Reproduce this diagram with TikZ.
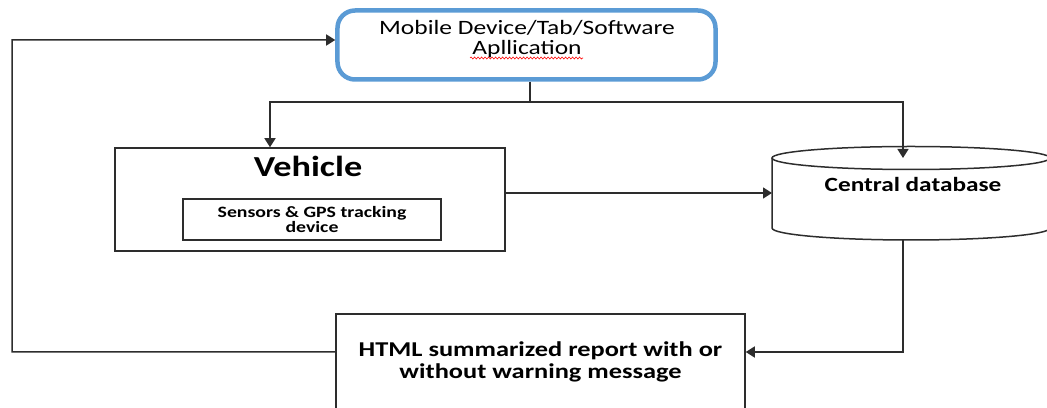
\documentclass[tikz,border=0pt]{standalone}
\usepackage{fontspec}
\setmainfont{Carlito}[FakeStretch=1.25]
\usetikzlibrary{arrows.meta,decorations.pathmorphing}
\definecolor{appblue}{RGB}{91,155,213}
\definecolor{linegray}{RGB}{45,45,45}

\begin{document}
\begin{tikzpicture}[x=0.2mm,y=-0.2mm,
  box/.style={draw=linegray,line width=0.3mm},
  line/.style={draw=linegray,line width=0.3mm},
  arr/.style={line,-{Triangle[length=1.8mm,width=2.2mm]}}]
\useasboundingbox (0,0) rectangle (1047,408);
\clip (0,0) rectangle (1047,408);

% Mobile application
\node[draw=appblue,line width=0.9mm,rounded corners=3.5mm,minimum width=75.6mm,minimum height=13.8mm] (mobile) at (526.5,45) {};
\node[font=\fontsize{11.6}{11.8}\selectfont,align=center] (mobiletext) at (527,39) {Mobile Device/Tab/Software\\Apllication};
\draw[red,line width=0.12mm,decorate,decoration={snake,amplitude=0.2mm,segment length=0.7mm}] (470,58) -- (583,58);

% Vehicle
\node[box,minimum width=78mm,minimum height=20.6mm] (vehicle) at (310,199.5) {};
\node[font=\fontsize{16.5}{18}\selectfont\bfseries] (vehicletext) at (308,166) {Vehicle};
\node[box,minimum width=51.6mm,minimum height=8.2mm,align=center,font=\fontsize{9}{8.8}\selectfont\bfseries] (sensors) at (312,219.5) {Sensors \& GPS tracking\\device};

% Central database
\node[minimum width=55.6mm,minimum height=14mm,outer sep=0pt] (db) at (911,193) {};
\draw[line] (db.north west) -- (db.south west) arc[start angle=180,end angle=360,x radius=27.8mm,y radius=2.4mm] -- (db.north east);
\draw[line] (db.north) ellipse[x radius=27.8mm,y radius=2.3mm];
\node[font=\fontsize{11.5}{12}\selectfont\bfseries] (dbtext) at (913,184) {Central database};

% Report
\node[box,minimum width=81.8mm,minimum height=19.2mm,align=center,font=\fontsize{12}{12.2}\selectfont\bfseries] (report) at (540.5,362) {HTML summarized report with or\\without warning message};

% Connectors
\coordinate (split) at (530,102);
\draw[line] (mobile.south -| split) -- (split);
\draw[arr] (split) -| ([xshift=-8mm]vehicle.north);
\draw[arr] (split) -| ([xshift=-1.6mm]db.north);
\draw[arr] (vehicle.east |- db.west) -- (db.west);
\draw[arr] ([xshift=-1.6mm,yshift=-2.4mm]db.south) |- ([yshift=2mm]report.east);
\coordinate (bend) at (12,352);
\draw[arr] ([yshift=2mm]report.west) -- (bend) |- ([yshift=1mm]mobile.west);
\end{tikzpicture}
\end{document}
